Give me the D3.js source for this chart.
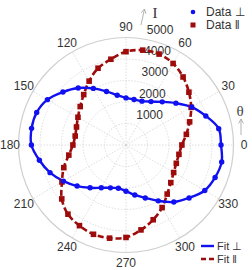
<!DOCTYPE html>
<html>
<head>
<meta charset="utf-8">
<script src="https://cdn.jsdelivr.net/npm/d3@7"></script>
<style>
  body { margin: 0; background: #fff; }
  svg { display: block; font-family: Arial, "Liberation Sans", sans-serif; }
</style>
</head>
<body>
<div id="chart"></div>
<script>
// angles in degrees (0 = right, counter-clockwise)
const angles = d3.range(0, 360, 10);

// intensity, perpendicular polarisation
const perpValues = [4420, 4380, 3950, 3530, 3030, 2620, 2330, 2170, 2150, 2190,
    2350, 2650, 3040, 3460, 3830, 4220, 4420, 4460, 4400, 4090,
    3760, 3360, 2970, 2600, 2300, 2120, 2040, 2150, 2360, 2620,
    3000, 3460, 3830, 4230, 4410, 4520];

// intensity, parallel polarisation
const paraValues = [2600, 2850, 3150, 3500, 3820, 4130, 4380, 4500, 4480, 4340,
    4050, 3800, 3430, 3060, 2780, 2580, 2450, 2400, 2470, 2700,
    3080, 3440, 3900, 4200, 4330, 4420, 4400, 4300, 4010, 3700,
    3360, 2980, 2720, 2560, 2490, 2500];

const rTicks = [1000, 2000, 3000, 4000, 5000];
const thetaTicks = d3.range(0, 360, 30);

const blue = "#1010f0";
const red = "#9e0b0b";

let width = 252, height = 270;
let cx = 126, cy = 145, R = 107.5;

let svg = d3.select("#chart").append("svg")
    .attr("width", width)
    .attr("height", height);

let rScale = d3.scaleLinear().domain([0, 5000]).range([0, R]);

let g = svg.append("g").attr("transform", `translate(${cx},${cy})`);

// grid circles
g.selectAll(".ring")
    .data(rTicks)
    .enter()
    .append("circle")
    .attr("class", "ring")
    .attr("r", d => rScale(d))
    .attr("fill", "none")
    .attr("stroke", d => d === 5000 ? "#cfcfcf" : "#d4d4d4")
    .attr("stroke-width", d => d === 5000 ? 1.2 : 0.8)
    .attr("stroke-dasharray", d => d === 5000 ? null : "1.5,1.5");

// spokes
g.selectAll(".spoke")
    .data(thetaTicks)
    .enter()
    .append("line")
    .attr("class", "spoke")
    .attr("x1", 0).attr("y1", 0)
    .attr("x2", d => R * Math.cos(d * Math.PI / 180))
    .attr("y2", d => -R * Math.sin(d * Math.PI / 180))
    .attr("stroke", "#d4d4d4")
    .attr("stroke-width", 0.8)
    .attr("stroke-dasharray", "1.5,1.5");

// angle labels (180 kept inside the left edge)
g.selectAll(".tlabel")
    .data(thetaTicks)
    .enter()
    .append("text")
    .attr("class", "tlabel")
    .attr("x", d => Math.max(-cx + 10, 118 * Math.cos(d * Math.PI / 180)))
    .attr("y", d => -118 * Math.sin(d * Math.PI / 180))
    .attr("text-anchor", "middle")
    .attr("dominant-baseline", "central")
    .attr("font-size", 12)
    .attr("fill", "#333")
    .text(d => d);

// radial labels
let rAxisAngle = 83 * Math.PI / 180;
g.selectAll(".rlabel")
    .data(rTicks)
    .enter()
    .append("text")
    .attr("class", "rlabel")
    .attr("x", d => rScale(d) * Math.cos(rAxisAngle) + 21)
    .attr("y", d => -rScale(d) * Math.sin(rAxisAngle) - 8.5)
    .attr("text-anchor", "middle")
    .attr("dominant-baseline", "central")
    .attr("font-size", 12)
    .attr("fill", "#333")
    .text(d => d);

// axis arrows
function arrow(x1, y1, x2, y2) {
    let a = Math.atan2(y2 - y1, x2 - x1);
    let h = 5;
    svg.append("path")
        .attr("d", `M${x1},${y1}L${x2},${y2}` +
            `M${x2 - h * Math.cos(a - 0.5)},${y2 - h * Math.sin(a - 0.5)}L${x2},${y2}` +
            `L${x2 - h * Math.cos(a + 0.5)},${y2 - h * Math.sin(a + 0.5)}`)
        .attr("fill", "none")
        .attr("stroke", "#aaa")
        .attr("stroke-width", 0.9);
}
arrow(141, 25, 144.5, 9);
arrow(241, 135, 241, 119);

svg.append("text")
    .attr("x", 155).attr("y", 13)
    .attr("text-anchor", "middle")
    .attr("dominant-baseline", "central")
    .attr("font-family", "'Liberation Serif', 'DejaVu Serif', serif")
    .attr("font-size", 15)
    .attr("fill", "#333")
    .text("I");

svg.append("text")
    .attr("x", 240).attr("y", 111)
    .attr("text-anchor", "middle")
    .attr("dominant-baseline", "central")
    .attr("font-family", "'Liberation Serif', 'DejaVu Serif', serif")
    .attr("font-size", 15)
    .attr("fill", "#444")
    .text("θ");

// data tables
let perpData = angles.map((a, i) => ({angle: a, value: perpValues[i]}));
let paraData = angles.map((a, i) => ({angle: a, value: paraValues[i]}));

let toRad = a => (90 - a) * Math.PI / 180;

let fitLine = d3.lineRadial()
    .angle(d => toRad(d.angle))
    .radius(d => rScale(d.value))
    .curve(d3.curveCatmullRomClosed.alpha(0.5));

g.append("path")
    .datum(paraData)
    .attr("d", fitLine)
    .attr("fill", "none")
    .attr("stroke", red)
    .attr("stroke-width", 2.6)
    .attr("stroke-dasharray", "6,3");

g.append("path")
    .datum(perpData)
    .attr("d", fitLine)
    .attr("fill", "none")
    .attr("stroke", blue)
    .attr("stroke-width", 2.4);

let px = d => rScale(d.value) * Math.cos(d.angle * Math.PI / 180);
let py = d => -rScale(d.value) * Math.sin(d.angle * Math.PI / 180);

g.selectAll(".sq")
    .data(paraData)
    .enter()
    .append("rect")
    .attr("class", "sq")
    .attr("x", d => px(d) - 2.8)
    .attr("y", d => py(d) - 2.8)
    .attr("width", 5.6)
    .attr("height", 5.6)
    .attr("fill", red);

g.selectAll(".dot")
    .data(perpData)
    .enter()
    .append("circle")
    .attr("class", "dot")
    .attr("cx", px)
    .attr("cy", py)
    .attr("r", 2.7)
    .attr("fill", blue);

// legends
let legend = svg.append("g").attr("font-size", 12).attr("fill", "#333");

legend.append("circle").attr("cx", 193).attr("cy", 12).attr("r", 2.3).attr("fill", blue);
legend.append("rect").attr("x", 190.5).attr("y", 22.5).attr("width", 5).attr("height", 5).attr("fill", red);
legend.append("text").attr("x", 206).attr("y", 12).attr("dominant-baseline", "central").text("Data ⊥");
legend.append("text").attr("x", 206).attr("y", 25).attr("dominant-baseline", "central").text("Data ‖");

legend.append("line").attr("x1", 201).attr("x2", 214).attr("y1", 246).attr("y2", 246)
    .attr("stroke", blue).attr("stroke-width", 2.4);
legend.append("line").attr("x1", 201).attr("x2", 214).attr("y1", 259).attr("y2", 259)
    .attr("stroke", red).attr("stroke-width", 2.4).attr("stroke-dasharray", "5,3");
legend.append("text").attr("x", 217).attr("y", 246).attr("font-size", 11).attr("dominant-baseline", "central").text("Fit ⊥");
legend.append("text").attr("x", 217).attr("y", 259).attr("font-size", 11).attr("dominant-baseline", "central").text("Fit ‖");
</script>
</body>
</html>
